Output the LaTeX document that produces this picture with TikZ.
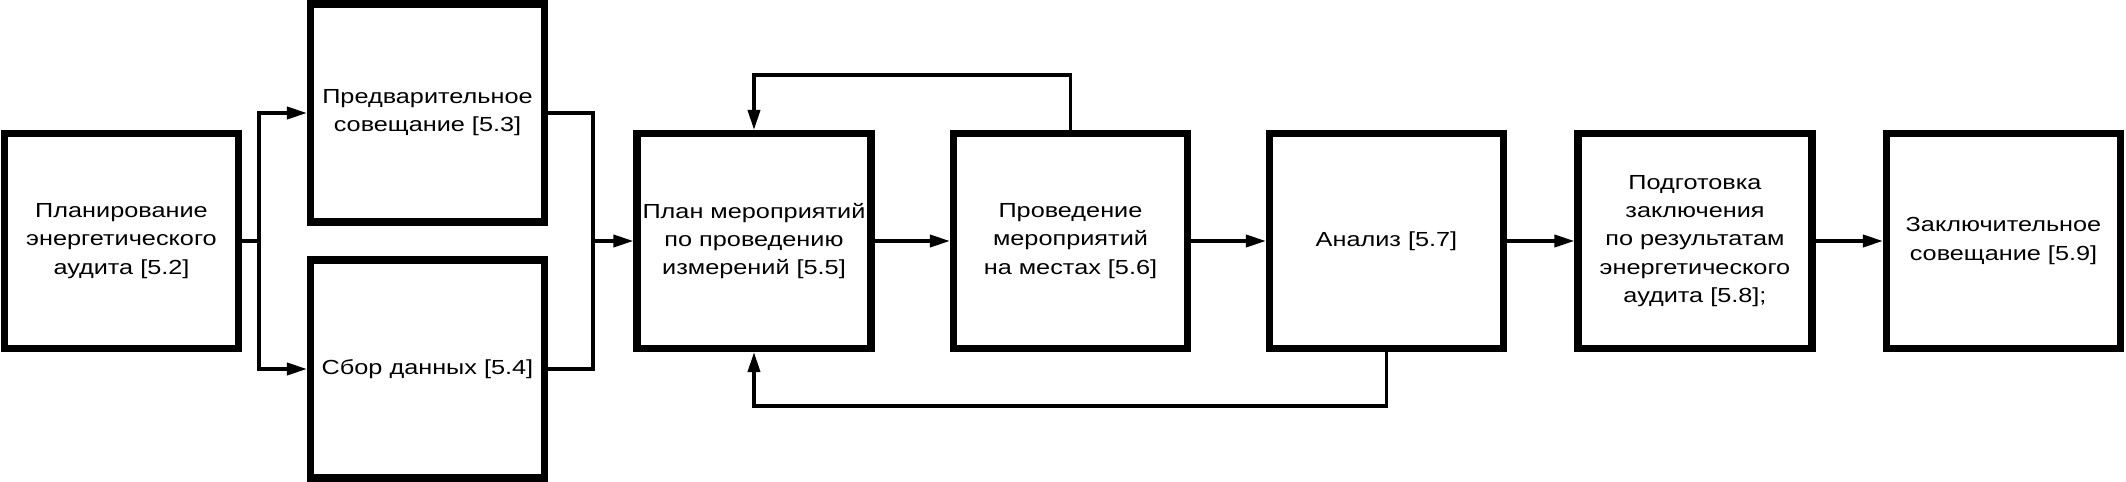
\documentclass[tikz,border=0pt]{standalone}
\usepackage{fontspec}
\setmainfont{Liberation Sans}[FakeStretch=1.24]
\usetikzlibrary{calc,arrows.meta}

\begin{document}
\begin{tikzpicture}[inner sep=0.4mm,
  stage/.style={draw,line width=2pt,minimum width=2.34cm,minimum height=2.15cm,
    align=center,font=\fontsize{5.8pt}{8pt}\selectfont},
  link/.style={line width=1pt},
  arr/.style={link,-{Triangle[length=2mm,width=1.2mm]}}]
\useasboundingbox (0,0) rectangle (21.26,-4.82);
\node (plan1) at (1.215,-2.41) [stage] {Планирование\\энергетического\\аудита [5.2]};
\node (pre) at (4.275,-1.13) [stage,minimum height=2.18cm] {Предварительное\\совещание [5.3]};
\node (sbor) at (4.275,-3.69) [stage,minimum height=2.18cm] {Сбор данных [5.4]};
\node (plan) at (7.54,-2.41) [stage] {План мероприятий\\по проведению\\измерений [5.5]};
\node (prov) at (10.705,-2.41) [stage] {Проведение\\мероприятий\\на местах [5.6]};
\node (anal) at (13.865,-2.41) [stage] {Анализ [5.7]};
\node (podg) at (16.95,-2.41) [stage] {Подготовка\\заключения\\по результатам\\энергетического\\аудита [5.8];};
\node (zakl) at (20.035,-2.41) [stage] {Заключительное\\совещание [5.9]};
% branch and merge points
\coordinate (bl) at (2.59,-2.41);
\coordinate (mr) at (5.93,-2.41);
\coordinate (ftop) at (0,-0.75);
\coordinate (fbot) at (0,-4.06);
\draw[link] (plan1.east) -- (bl);
\draw[arr] (bl) |- (pre.west);
\draw[arr] (bl) |- (sbor.west);
\draw[link] (pre.east) -| (mr);
\draw[link] (sbor.east) -| (mr);
\draw[arr] (mr) -- (plan.west);
\draw[arr] (plan) -- (prov);
\draw[arr] (prov) -- (anal);
\draw[arr] (anal) -- (podg);
\draw[arr] (podg) -- (zakl);
% feedback
\draw[arr] (prov.north) -- (prov.north |- ftop) -| (plan.north);
\draw[arr] (anal.south) -- (anal.south |- fbot) -| (plan.south);
\end{tikzpicture}
\end{document}
